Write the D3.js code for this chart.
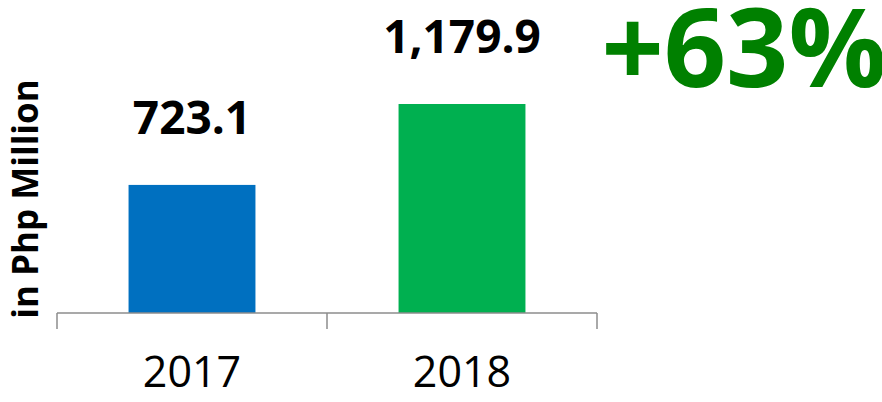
<!DOCTYPE html>
<html>
<head>
<meta charset="utf-8">
<script src="https://cdn.jsdelivr.net/npm/d3@7"></script>
<style>
  body { margin: 0; background: #fff; }
  text { font-family: "Open Sans", "Segoe UI", sans-serif; }
</style>
</head>
<body>
<svg width="882" height="402"></svg>
<script>
// chart data
const years = ["2017", "2018"];
const values = [723.1, 1179.9];
const barColors = ["#0070C0", "#00B050"];
const growthLabel = "+63%";
const axisTitle = "in Php Million";

const svg = d3.select("svg");

const x = d3.scaleBand()
  .domain(years)
  .range([57, 597])
  .paddingInner(0.53)
  .paddingOuter(0.265);

const y = d3.scaleLinear()
  .domain([0, 1179.9])
  .range([313, 104]);

// bars
svg.selectAll(".bar")
  .data(values)
  .enter().append("rect")
    .attr("class", "bar")
    .attr("x", (d, i) => x(years[i]))
    .attr("width", x.bandwidth())
    .attr("y", d => y(d))
    .attr("height", d => y(0) - y(d))
    .attr("fill", (d, i) => barColors[i]);

// x axis: baseline with ticks between categories
const axisG = svg.append("g").attr("class", "xaxis");
const step = x.step();
const edges = [x.range()[0], x.range()[0] + step, x.range()[1]];
axisG.append("line")
  .attr("x1", x.range()[0]).attr("x2", x.range()[1])
  .attr("y1", y(0)).attr("y2", y(0))
  .attr("stroke", "#8c8c8c").attr("stroke-width", 1.5);
axisG.selectAll(".tick")
  .data(edges)
  .enter().append("line")
    .attr("x1", d => d).attr("x2", d => d)
    .attr("y1", y(0)).attr("y2", y(0) + 16)
    .attr("stroke", "#8c8c8c").attr("stroke-width", 1.5);

axisG.selectAll(".year")
  .data(years)
  .enter().append("text")
    .attr("class", "year")
    .attr("x", d => x(d) + x.bandwidth() / 2)
    .attr("y", 387)
    .attr("text-anchor", "middle")
    .attr("font-size", 43)
    .attr("fill", "#000")
    .text(d => d);

// value labels
svg.selectAll(".val")
  .data(values)
  .enter().append("text")
    .attr("class", "val")
    .attr("x", (d, i) => x(years[i]) + x.bandwidth() / 2)
    .attr("y", d => y(d) - 51)
    .attr("text-anchor", "middle")
    .attr("font-size", 46)
    .attr("font-weight", "bold")
    .attr("fill", "#000")
    .text(d => d3.format(",.1f")(d));

// y axis title
svg.append("text")
  .attr("transform", "translate(38,199) rotate(-90)")
  .attr("text-anchor", "middle")
  .attr("font-size", 35)
  .attr("font-weight", "bold")
  .attr("fill", "#000")
  .text(axisTitle);

// growth callout
svg.append("text")
  .attr("x", 744)
  .attr("y", 87)
  .attr("text-anchor", "middle")
  .attr("font-size", 109)
  .attr("font-weight", "bold")
  .attr("fill", "#008000")
  .text(growthLabel);
</script>
</body>
</html>
